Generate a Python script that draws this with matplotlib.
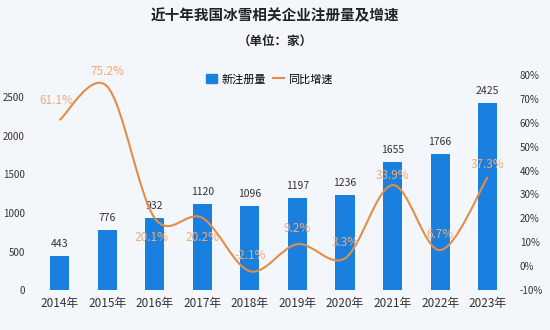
import matplotlib
matplotlib.use("Agg")
import matplotlib.pyplot as plt
from matplotlib.path import Path
from matplotlib.patches import PathPatch
from matplotlib.lines import Line2D
from matplotlib.patches import Patch
import numpy as np

plt.rcParams["font.family"] = ["Noto Sans CJK SC", "DejaVu Sans"]

years = ["2014年", "2015年", "2016年", "2017年", "2018年",
         "2019年", "2020年", "2021年", "2022年", "2023年"]
counts = [443, 776, 932, 1120, 1096, 1197, 1236, 1655, 1766, 2425]
growth = [61.1, 75.2, 20.1, 20.2, -2.1, 9.2, 3.3, 33.9, 6.7, 37.3]
# label offsets in points (dx, dy) for the growth labels
growth_offsets = [(-2, 14), (0, 11), (-2, -14), (0, -14), (0, 11),
                  (0, 11), (0, 11), (0, 7), (0, 11), (0, 9)]

BLUE = "#1a80e0"
ORANGE = "#e38d47"
LABEL_ORANGE = "#f0aa78"
BG = "#f3f6fa"

fig = plt.figure(figsize=(5.5, 3.3), dpi=100, facecolor=BG)
ax = fig.add_axes([0.065, 0.121, 0.865, 0.652])
ax.set_facecolor(BG)
x = np.arange(len(years))

ax.bar(x, counts, width=0.4, color=BLUE, zorder=2)
for xi, c in zip(x, counts):
    ax.annotate(str(c), (xi, c), xytext=(0, 5), textcoords="offset points",
                ha="center", va="bottom", fontsize=7.5, color="#333333")
ax.set_xlim(-0.5, len(years) - 0.5)
ax.set_ylim(0, 2790)
ax.set_yticks([0, 500, 1000, 1500, 2000, 2500])
ax.set_xticks(x)
ax.set_xticklabels(years, fontsize=8.5, color="#333333")
ax.tick_params(axis="y", labelsize=7, colors="#333333", length=0, pad=8)
ax.tick_params(axis="x", length=0, pad=5)
for s in ax.spines.values():
    s.set_visible(False)
ax.axhline(0, color="#dde2ea", lw=0.8, zorder=1)

ax2 = ax.twinx()
ax2.set_ylim(-10, 80)
ax2.set_yticks(range(-10, 81, 10))
ax2.set_yticklabels([f"{v}%" for v in range(-10, 81, 10)])
ax2.tick_params(axis="y", labelsize=7, colors="#333333", length=0, pad=6)
for s in ax2.spines.values():
    s.set_visible(False)

# smooth line through the points with Catmull-Rom bezier segments
pts = np.column_stack([x, growth]).astype(float)
verts = [tuple(pts[0])]
codes = [Path.MOVETO]
for i in range(len(pts) - 1):
    p0 = pts[max(i - 1, 0)]
    p1 = pts[i]
    p2 = pts[i + 1]
    p3 = pts[min(i + 2, len(pts) - 1)]
    c1 = p1 + (p2 - p0) / 6
    c2 = p2 - (p3 - p1) / 6
    verts += [tuple(c1), tuple(c2), tuple(p2)]
    codes += [Path.CURVE4] * 3
ax2.add_patch(PathPatch(Path(verts, codes), fill=False, edgecolor=ORANGE,
                        lw=1.5, zorder=3))
for xi, g, (dx, dy) in zip(x, growth, growth_offsets):
    ax2.annotate(f"{g}%", (xi, g), xytext=(dx, dy), textcoords="offset points",
                 ha="center", va="center", fontsize=8.5, color=LABEL_ORANGE,
                 zorder=4)

fig.text(0.5, 0.955, "近十年我国冰雪相关企业注册量及增速", ha="center",
         va="center", fontsize=10.5, fontweight="bold", color="#222222")
fig.text(0.5, 0.872, "（单位：家）", ha="center", va="center",
         fontsize=9, fontweight="bold", color="#222222")

handles = [Patch(color=BLUE), Line2D([], [], color=ORANGE, lw=1.5)]
fig.legend(handles, ["新注册量", "同比增速"], loc="center",
           bbox_to_anchor=(0.49, 0.76), ncol=2, frameon=False, fontsize=8,
           handlelength=1.0, handleheight=0.8, columnspacing=0.6,
           handletextpad=0.4)

fig.savefig("out.png", dpi=100, facecolor=BG)
